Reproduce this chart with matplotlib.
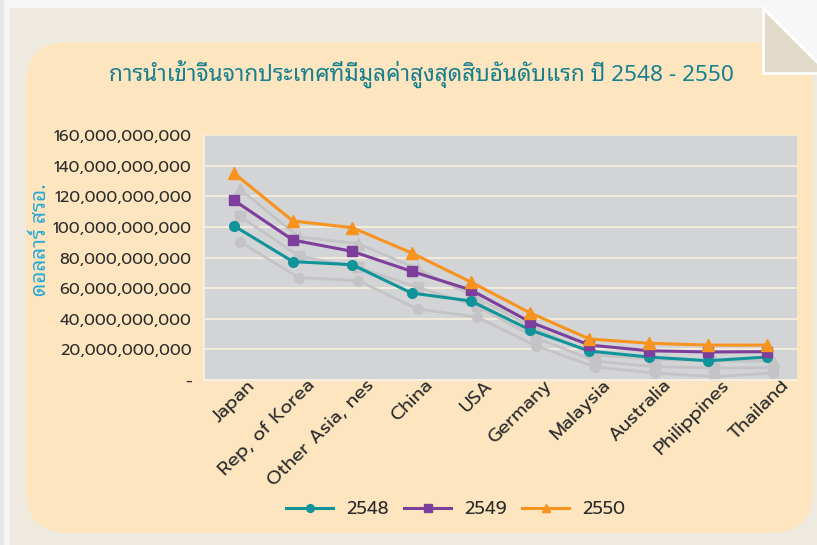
import matplotlib
matplotlib.use('Agg')
import matplotlib.pyplot as plt
from matplotlib.patches import FancyBboxPatch, Rectangle, Polygon
from matplotlib.transforms import ScaledTranslation
from matplotlib.ticker import FuncFormatter, MultipleLocator

# China imports by top-10 source country, US dollars (billions)
countries = ['Japan', 'Rep, of Korea', 'Other Asia, nes', 'China', 'USA',
             'Germany', 'Malaysia', 'Australia', 'Philippines', 'Thailand']
years = ['2548', '2549', '2550']
imports_2548 = [100.8, 77.3, 75.3, 56.8, 51.6, 32.7, 18.9, 15.0, 12.6, 15.0]
imports_2549 = [117.5, 91.4, 84.0, 71.0, 58.8, 37.9, 22.8, 19.1, 18.3, 18.5]
imports_2550 = [135.2, 103.8, 99.5, 83.0, 64.0, 43.8, 26.8, 24.0, 22.8, 22.8]

title = 'การนำเข้าจีนจากประเทศที่มีมูลค่าสูงสุดสิบอันดับแรก ปี 2548 - 2550'
ylabel = 'ดอลลาร์ สรอ.'

series = [
    (imports_2548, '#11939a', 'o', 7),
    (imports_2549, '#7d3f9b', 's', 6.5),
    (imports_2550, '#f7931e', '^', 8),
]

THAI = ['Noto Sans Thai Looped', 'DejaVu Sans']
TICK_FONT = ['Prompt', 'DejaVu Sans']

fig = plt.figure(figsize=(8.17, 5.45), dpi=100)
fig.patch.set_facecolor('#f6f6f6')

# page background, rounded panel and folded corner (pixel units via inches)
px = 1 / 100
H = 545
fig.patches.append(Rectangle((10 * px, 0), 8.1, (H - 8) * px,
                             transform=fig.dpi_scale_trans,
                             facecolor='#efeadf', edgecolor='none', zorder=0))
fig.patches.append(Rectangle((0, 0), 4 * px, H * px,
                             transform=fig.dpi_scale_trans,
                             facecolor='#e6e6e6', edgecolor='none', zorder=0))
fig.patches.append(FancyBboxPatch((26 * px, (H - 533) * px), 787 * px, 491 * px,
                                  boxstyle='round,pad=0,rounding_size=0.42',
                                  transform=fig.dpi_scale_trans,
                                  facecolor='#fde6bf', edgecolor='none', zorder=0))
fig.patches.append(Polygon([(763 * px, (H - 8) * px), (817 * px, (H - 8) * px),
                            (817 * px, (H - 62) * px)], closed=True,
                           transform=fig.dpi_scale_trans,
                           facecolor='#f7f7f7', edgecolor='none', zorder=1))
fig.patches.append(Polygon([(763 * px, (H - 8) * px), (763 * px, (H - 73) * px),
                            (828 * px, (H - 73) * px)], closed=True,
                           transform=fig.dpi_scale_trans,
                           facecolor='#e2dbc9', edgecolor='white', linewidth=2,
                           zorder=1))

ax = fig.add_axes([204 / 817, 1 - 380 / H, 593 / 817, 245 / H])
ax.set_facecolor('#d3d4d6')
ax.set_zorder(2)

x = range(len(countries))
shadow = ScaledTranslation(6 * px, -16 * px, fig.dpi_scale_trans)
for vals, color, marker, ms in series:
    ax.plot(x, [v * 1e9 for v in vals], color='#c4c4c6', lw=2.0, marker=marker,
            ms=ms, mec='#c4c4c6', transform=ax.transData + shadow, zorder=2)
for (vals, color, marker, ms), year in zip(series, years):
    ax.plot(x, [v * 1e9 for v in vals], color=color, lw=2.2, marker=marker,
            ms=ms, mec=color, label=year, zorder=3)

ax.set_xlim(-0.5, len(countries) - 0.5)
ax.set_ylim(0, 160e9)
ax.yaxis.set_major_locator(MultipleLocator(20e9))
ax.yaxis.set_major_formatter(FuncFormatter(lambda v, p: '-' if v == 0 else f'{v:,.0f}'))
ax.grid(axis='y', color='#f6eedc', lw=1.3)
ax.set_axisbelow(True)
for side in ['top', 'right']:
    ax.spines[side].set_visible(False)
for side in ['left', 'bottom']:
    ax.spines[side].set_color('#f6f1e6')
    ax.spines[side].set_linewidth(1.2)
ax.tick_params(length=0, labelcolor='#2b2b2b')
ax.tick_params(axis='y', pad=9, labelsize=11.6)
for lab in ax.get_yticklabels():
    lab.set_family(TICK_FONT)

ax.set_xticks(list(x))
ax.set_xticklabels(countries, rotation=45, ha='right', va='center',
                   rotation_mode='anchor', family=TICK_FONT, fontsize=13.5)
for lab in ax.get_xticklabels():
    lab.set_transform(lab.get_transform() + ScaledTranslation(19 * px, 2 * px, fig.dpi_scale_trans))

fig.text(421 / 817, 1 - 74 / H, title, ha='center', va='center', fontsize=16.3,
         color='#177f8e', family=THAI)
fig.text(40 / 817, 1 - 240 / H, ylabel, ha='center', va='center', rotation=90,
         fontsize=15, color='#2aa8d6', family=THAI)

leg = fig.legend(loc='center', bbox_to_anchor=(456 / 817, 1 - 510 / H), ncol=3,
                 frameon=False, handlelength=2.6, handletextpad=0.72,
                 columnspacing=0.85, markerscale=0.8,
                 prop={'family': TICK_FONT, 'size': 13})
for t in leg.get_texts():
    t.set_color('#2b2b2b')

fig.savefig('out.png', dpi=100)
